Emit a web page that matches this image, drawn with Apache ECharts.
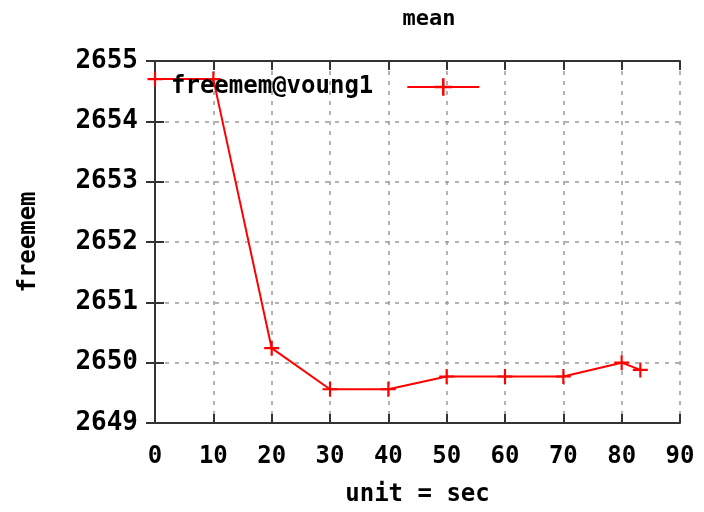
<!DOCTYPE html>
<html>
<head>
<meta charset="utf-8">
<script src="https://cdn.jsdelivr.net/npm/echarts@6/dist/echarts.min.js"></script>
<style>html,body{margin:0;padding:0;background:#fff}#c{width:704px;height:512px}</style>
</head>
<body>
<div id="c"></div>
<script>
var seconds = [0, 10, 20, 30, 40, 50, 60, 70, 80, 83.2];
var freemem = [2654.7, 2654.7, 2650.24, 2649.56, 2649.56, 2649.77, 2649.77, 2649.77, 2650.0, 2649.88];
var seriesName = 'freemem@voung1';
var titleText = 'mean';
var xName = 'unit = sec';
var yName = 'freemem';

var FONT = 'DejaVu Sans Mono';
var plus = 'path://M-1,-7H1V-1H7V1H1V7H-1V1H-7V-1H-1Z';
var data = seconds.map(function (s, i) { return [s, freemem[i]]; });
var chart = echarts.init(document.getElementById('c'), null, {renderer: 'canvas'});
var axisTxt = {color: '#000', fontFamily: FONT, fontWeight: 'bold', fontSize: 24};
chart.setOption({
  animation: false,
  backgroundColor: '#fff',
  title: {text: titleText, left: 424, top: 3, textAlign: 'center',
    textStyle: {color: '#000', fontFamily: FONT, fontWeight: 'bold', fontSize: 22}},
  legend: {left: 166, top: 70, align: 'right', itemWidth: 72, itemHeight: 22, itemGap: 0,
    textStyle: {color: '#000', fontFamily: FONT, fontWeight: 'bold', fontSize: 24, padding: [0, 29, 0, 0]},
    data: [{name: seriesName}]},
  grid: {left: 155, right: 24, top: 61, bottom: 87, containLabel: false},
  xAxis: [{
    type: 'value', min: 0, max: 90, interval: 10,
    name: xName, nameLocation: 'middle', nameGap: 60,
    nameTextStyle: {color: '#000', fontFamily: FONT, fontWeight: 'bold', fontSize: 24},
    axisLine: {lineStyle: {color: '#333', width: 2}},
    axisTick: {inside: true, length: 9, lineStyle: {color: '#333', width: 2}},
    axisLabel: Object.assign({margin: 22}, axisTxt),
    splitLine: {show: true, lineStyle: {color: '#999', type: [4, 6], width: 1.5}}
  }, {
    type: 'value', min: 0, max: 90, interval: 10, position: 'top',
    axisLine: {show: true, lineStyle: {color: '#333', width: 2}},
    axisTick: {inside: true, length: 9, lineStyle: {color: '#333', width: 2}},
    axisLabel: {show: false}, splitLine: {show: false}
  }],
  yAxis: [{
    type: 'value', min: 2649, max: 2655, interval: 1,
    name: yName, nameLocation: 'middle', nameGap: 114, nameRotate: 90,
    nameTextStyle: {color: '#000', fontFamily: FONT, fontWeight: 'bold', fontSize: 24},
    axisLine: {show: true, lineStyle: {color: '#333', width: 2}},
    axisTick: {show: true, inside: true, length: 9, lineStyle: {color: '#333', width: 2}},
    axisLabel: Object.assign({}, axisTxt, {margin: 17, fontSize: 26, formatter: function (v) { return String(v); }}),
    splitLine: {show: true, lineStyle: {color: '#999', type: [4, 6], width: 1.5}}
  }, {
    type: 'value', min: 2649, max: 2655, interval: 1, position: 'right',
    axisLine: {show: true, lineStyle: {color: '#333', width: 2}},
    axisTick: {show: true, inside: true, length: 9, lineStyle: {color: '#333', width: 2}},
    axisLabel: {show: false}, splitLine: {show: false}
  }],
  series: [{
    name: seriesName, type: 'line', data: data,
    symbol: plus, symbolSize: 15, showSymbol: true,
    lineStyle: {color: '#ff0000', width: 2},
    itemStyle: {color: '#ff0000'}
  }]
});
</script>
</body>
</html>
